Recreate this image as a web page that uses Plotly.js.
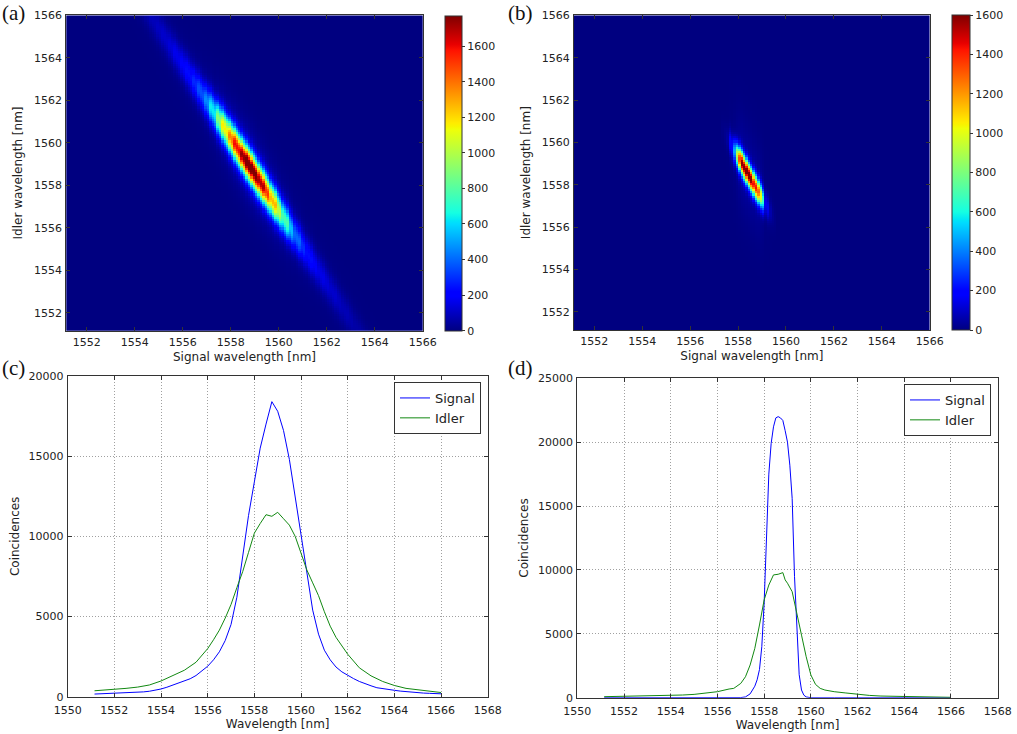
<!DOCTYPE html>
<html><head><meta charset="utf-8">
<script src="https://cdn.plot.ly/plotly-3.0.1.min.js"></script>
<style>html,body{margin:0;padding:0;background:#fff}#chart{width:1017px;height:734px}</style>
</head><body><div id="chart"></div>
<script>
// ---------- DATA ----------
// (c) signal marginal
const sigC_x = [1551.15,1551.5,1551.75,1552,1552.25,1552.5,1552.75,1553,1553.25,1553.5,1553.75,1554,1554.25,1554.5,1554.75,1555,1555.25,1555.5,1555.75,1556,1556.25,1556.5,1556.75,1557,1557.25,1557.5,1557.75,1558,1558.25,1558.5,1558.75,1559,1559.25,1559.5,1559.75,1560,1560.25,1560.5,1560.75,1561,1561.25,1561.5,1561.75,1562,1562.25,1562.5,1562.75,1563,1563.25,1563.5,1563.75,1564,1564.25,1564.5,1564.75,1565,1565.25,1565.5,1565.75,1566];
const sigC_y = [165,180,190,205,215,230,250,270,300,340,400,480,590,720,850,980,1120,1320,1620,1900,2300,2800,3500,4500,6200,8900,11300,13400,15500,17000,18400,17800,16600,14800,12400,10000,7600,5400,3900,2900,2300,1850,1550,1330,1130,950,800,680,560,520,470,400,350,310,280,250,225,210,190,180];
// (c) idler marginal
const idlC_x = [1551.15,1551.5,1552,1552.5,1553,1553.5,1554,1554.5,1555,1555.5,1556,1556.25,1556.5,1556.75,1557,1557.25,1557.5,1557.75,1558,1558.25,1558.5,1558.75,1559,1559.25,1559.5,1559.75,1560,1560.25,1560.5,1560.75,1561,1561.25,1561.5,1562,1562.5,1563,1563.5,1564,1564.5,1565,1565.5,1566];
const idlC_y = [370,400,450,520,600,730,980,1300,1650,2150,3000,3550,4150,4900,5750,6800,7800,9000,10200,10800,11350,11250,11500,11100,10700,10000,9000,7900,7100,6300,5300,4400,3700,2650,1800,1300,950,700,520,420,320,260];
// (d) signal marginal
const sigD_x = [1551.15,1552,1553,1554,1555,1556,1556.5,1557,1557.2,1557.4,1557.6,1557.7,1557.8,1557.9,1558,1558.1,1558.2,1558.3,1558.4,1558.5,1558.6,1558.7,1558.8,1558.9,1559,1559.1,1559.2,1559.3,1559.4,1559.5,1559.6,1559.7,1559.8,1560,1561,1562,1563,1564,1565,1566];
const sigD_y = [0,0,0,0,0,0,0,10,60,300,900,1400,2200,4000,7400,13000,17500,19900,21200,21900,22000,21900,21700,20900,20000,18200,15600,9500,5000,1800,600,200,60,0,0,0,0,0,0,0];
// (d) idler marginal
const idlD_x = [1551.15,1552,1553,1554,1554.5,1555,1555.5,1556,1556.5,1556.7,1557,1557.2,1557.4,1557.6,1557.8,1558,1558.2,1558.4,1558.6,1558.8,1558.9,1559,1559.2,1559.4,1559.6,1559.8,1560,1560.2,1560.4,1560.6,1561,1561.5,1562,1562.5,1563,1564,1565,1566];
const idlD_y = [80,100,130,180,210,260,340,470,680,730,1120,1640,2560,3860,5690,7650,8820,9610,9660,9790,9220,8960,8300,6470,4900,3210,1780,1040,730,600,470,370,260,180,130,80,50,30];

// (a) joint spectrum: ridge amplitude follows the (c) signal marginal
const jsaA_peak = 1770, jsaA_s0 = 1558.8, jsaA_c0 = 1558.85, jsaA_slope = 1.72, jsaA_width = 0.5, jsaA_halo = 0.07, jsaA_haloW = 1.1;
// (b) joint spectrum: ridge amplitude per signal bin
const jsaB_x    = [1551.15,1552,1553,1554,1555,1556,1556.5,1557,1557.2,1557.3,1557.4,1557.5,1557.6,1557.7,1557.8,1557.9,1558,1558.1,1558.2,1558.3,1558.4,1558.5,1558.6,1558.7,1558.8,1558.9,1559,1559.1,1559.2,1559.3,1559.4,1559.5,1559.6,1560,1561,1562,1563,1564,1565,1566];
const jsaB_vals = [0,0,0,0,0,0,0,0,0,10,20,40,80,200,450,900,1300,1500,1580,1600,1600,1580,1520,1400,1250,1000,650,350,150,60,25,10,0,0,0,0,0,0,0,0];
const jsaB_s0 = 1558.45, jsaB_c0 = 1558.45, jsaB_slope = 1.94, jsaB_width = 0.37, jsaB_halo = 0.03, jsaB_haloW = 1.4;

const cbTicks = [0,200,400,600,800,1000,1200,1400,1600];
// 0.1 nm pixel grid of the maps (both axes)
const pixGrid = Array.from({length:149}, (_, k) => +(1551.15 + 0.1*k).toFixed(2));

// ---------- build heatmap tables ----------
function binOf(xs, s) { let b = 0; for (let k = 1; k < xs.length; k++) if (Math.abs(xs[k]-s) < Math.abs(xs[b]-s)) b = k; return b; }
function jsa(sx, amp, s0, c0, slope, w, halo, haloW) {
  const colAmp = pixGrid.map(s => amp[binOf(sx, s)]);
  return pixGrid.map(i => pixGrid.map((s, k) => {
    const d = i - (c0 - slope*(s - s0));
    return colAmp[k] * (Math.exp(-0.5*(d/w)*(d/w)) + halo*Math.exp(-0.5*(d/haloW)*(d/haloW)));
  }));
}
const maxSigC = Math.max(...sigC_y);
const ampA = sigC_y.map(v => v/maxSigC*jsaA_peak);
const zA = jsa(sigC_x, ampA, jsaA_s0, jsaA_c0, jsaA_slope, jsaA_width, jsaA_halo, jsaA_haloW);
const zB = jsa(jsaB_x, jsaB_vals, jsaB_s0, jsaB_c0, jsaB_slope, jsaB_width, jsaB_halo, jsaB_haloW);

const jet = [[0,'rgb(0,0,128)'],[0.11,'rgb(0,0,255)'],[0.125,'rgb(0,0,255)'],[0.34,'rgb(0,219,255)'],[0.35,'rgb(0,230,247)'],[0.375,'rgb(21,255,226)'],[0.64,'rgb(239,255,8)'],[0.65,'rgb(247,245,0)'],[0.66,'rgb(255,236,0)'],[0.89,'rgb(255,19,0)'],[0.91,'rgb(232,0,0)'],[1,'rgb(128,0,0)']];

const FONT = 'DejaVu Sans, sans-serif';
const TXT = '#222';
const W = 1017, H = 734;
const px = v => v/W, py = v => 1 - v/H;

function cb(x0, y0, y1, th) {
  return {x: px(x0), xanchor:'left', xpad:0, y: py(y1), yanchor:'bottom', ypad:0,
    len: y1 - y0, lenmode:'pixels', thickness: th, thicknessmode:'pixels',
    outlinewidth:1, outlinecolor:'#333', tickvals: cbTicks, ticks:'outside', ticklen:3, tickcolor:'#333',
    tickfont:{family:FONT, size:11, color:TXT}};
}

const traces = [
  {type:'heatmap', x: pixGrid, y: pixGrid, z: zA, xaxis:'x', yaxis:'y', zmin:0, zmax:1771,
   colorscale: jet, zsmooth:false, hoverinfo:'skip', colorbar: cb(445, 15.3, 330.7, 17)},
  {type:'heatmap', x: pixGrid, y: pixGrid, z: zB, xaxis:'x2', yaxis:'y2', zmin:0, zmax:1600,
   colorscale: jet, zsmooth:false, hoverinfo:'skip', colorbar: cb(951.7, 15.3, 330, 17.6)},
  {type:'scatter', mode:'lines', name:'Signal', x: sigC_x, y: sigC_y, xaxis:'x3', yaxis:'y3', line:{color:'#0000ff', width:1}, legend:'legend'},
  {type:'scatter', mode:'lines', name:'Idler', x: idlC_x, y: idlC_y, xaxis:'x3', yaxis:'y3', line:{color:'#118811', width:1}, legend:'legend'},
  {type:'scatter', mode:'lines', name:'Signal', x: sigD_x, y: sigD_y, xaxis:'x4', yaxis:'y4', line:{color:'#0000ff', width:1}, legend:'legend2'},
  {type:'scatter', mode:'lines', name:'Idler', x: idlD_x, y: idlD_y, xaxis:'x4', yaxis:'y4', line:{color:'#118811', width:1}, legend:'legend2'}
];

function ax(domain, range, dtick, anchor, title, standoff, grid, lblOff) {
  return {domain, range, dtick, tick0:0, anchor, tickformat:'d',
    showline:true, mirror:'ticks', linecolor:'#333', linewidth:1,
    ticks:'inside', ticklen:4, tickcolor:'#333', zeroline:false,
    showgrid: !!grid, gridcolor:'#a0a0a0', griddash:'1px,2px', gridwidth:1,
    ticklabelstandoff: lblOff || 0,
    tickfont:{family:FONT, size:11, color:TXT},
    title:{text:title, font:{family:FONT, size:12, color:TXT}, standoff}};
}

const layout = {
  width: W, height: H, margin:{l:0,r:0,t:0,b:0}, paper_bgcolor:'#fff', plot_bgcolor:'#fff',
  font:{family:FONT, color:TXT}, showlegend:true,
  xaxis:  ax([px(66.3), px(422.7)], [1551.15,1566], 2, 'y', 'Signal wavelength [nm]', 4, false, 1),
  yaxis:  ax([py(330.7), py(15.3)], [1551.15,1566], 2, 'x', 'Idler wavelength [nm]', 8, false, 1),
  xaxis2: ax([px(574), px(929.7)], [1551.15,1566], 2, 'y2', 'Signal wavelength [nm]', 4, false, 1),
  yaxis2: ax([py(330), py(15.3)], [1551.15,1566], 2, 'x2', 'Idler wavelength [nm]', 8, false, 1),
  xaxis3: ax([px(67.7), px(487.7)], [1550,1568], 2, 'y3', 'Wavelength [nm]', 3, true, 3),
  yaxis3: ax([py(696.7), py(376)], [0,20000], 5000, 'x3', 'Coincidences', 6, true, 1),
  xaxis4: ax([px(577.3), px(997.7)], [1550,1568], 2, 'y4', 'Wavelength [nm]', 3, true, 3),
  yaxis4: ax([py(697.7), py(378.3)], [0,25000], 5000, 'x4', 'Coincidences', 6, true, 1),
  legend:  {x: px(481), xanchor:'right', y: py(382), yanchor:'top', bgcolor:'#fff', bordercolor:'#333', borderwidth:1,
            font:{family:FONT, size:13, color:TXT}, itemwidth:30, tracegroupgap:0},
  legend2: {x: px(991), xanchor:'right', y: py(384), yanchor:'top', bgcolor:'#fff', bordercolor:'#333', borderwidth:1,
            font:{family:FONT, size:13, color:TXT}, itemwidth:30, tracegroupgap:0},
  annotations: [
    {text:'(a)', x:0, y:py(13), xref:'paper', yref:'paper', xanchor:'left', yanchor:'middle', showarrow:false, font:{family:'Liberation Serif, serif', size:21, color:'#111'}},
    {text:'(b)', x:px(506), y:py(13), xref:'paper', yref:'paper', xanchor:'left', yanchor:'middle', showarrow:false, font:{family:'Liberation Serif, serif', size:21, color:'#111'}},
    {text:'(c)', x:0, y:py(368), xref:'paper', yref:'paper', xanchor:'left', yanchor:'middle', showarrow:false, font:{family:'Liberation Serif, serif', size:21, color:'#111'}},
    {text:'(d)', x:px(506), y:py(368), xref:'paper', yref:'paper', xanchor:'left', yanchor:'middle', showarrow:false, font:{family:'Liberation Serif, serif', size:21, color:'#111'}}
  ]
};

Plotly.newPlot('chart', traces, layout, {staticPlot:true, displayModeBar:false});
</script></body></html>
